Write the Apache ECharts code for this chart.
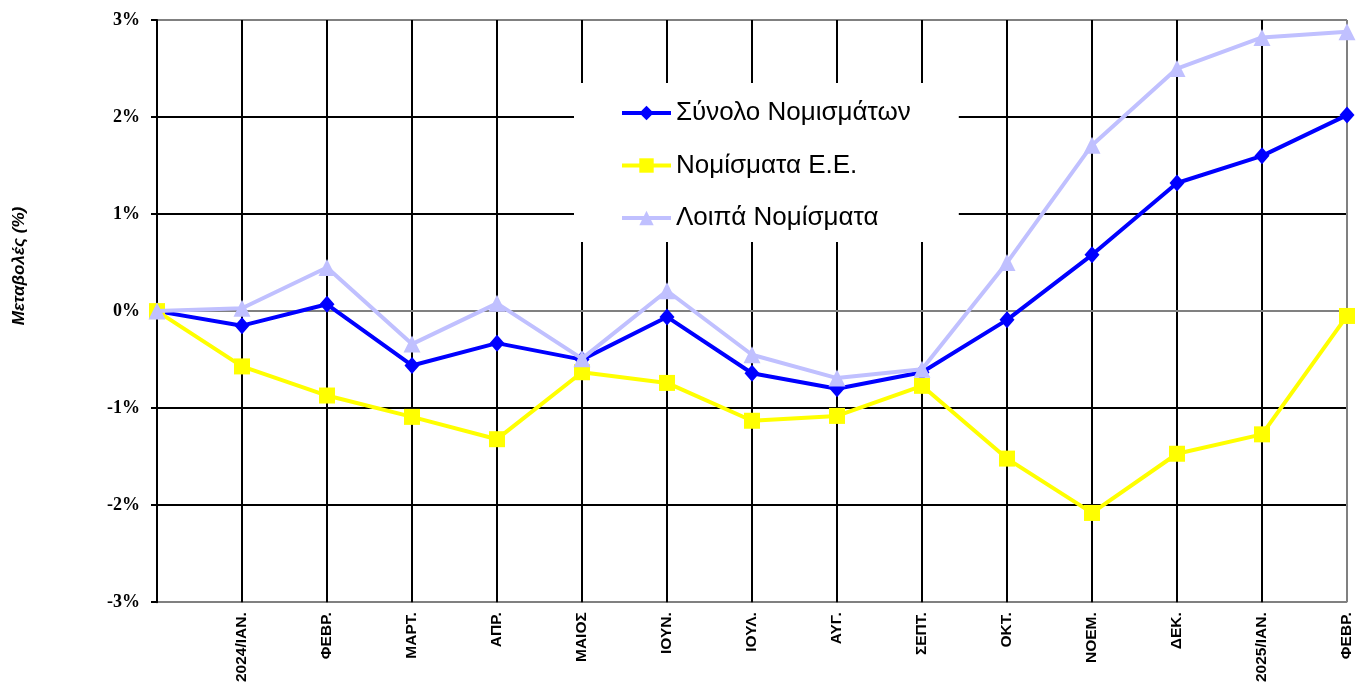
<!DOCTYPE html>
<html>
<head>
<meta charset="utf-8">
<script src="https://cdn.jsdelivr.net/npm/echarts@6/dist/echarts.min.js"></script>
<style>
  html, body { margin: 0; padding: 0; background: #fff; }
  #main { width: 1361px; height: 685px; }
</style>
</head>
<body>
<div id="main"></div>
<script>
const categories = ["", "2024/ΙΑΝ.", "ΦΕΒΡ.", "ΜΑΡΤ.", "ΑΠΡ.", "ΜΑΙΟΣ", "ΙΟΥΝ.", "ΙΟΥΛ.", "ΑΥΓ.", "ΣΕΠΤ.", "ΟΚΤ.", "ΝΟΕΜ.", "ΔΕΚ.", "2025/ΙΑΝ.", "ΦΕΒΡ."];
const totalCurrencies = [0, -0.15, 0.07, -0.56, -0.33, -0.5, -0.06, -0.64, -0.8, -0.63, -0.09, 0.58, 1.32, 1.6, 2.02];
const euCurrencies = [0, -0.57, -0.87, -1.09, -1.32, -0.63, -0.74, -1.13, -1.08, -0.77, -1.52, -2.08, -1.47, -1.27, -0.05];
const otherCurrencies = [0, 0.03, 0.45, -0.34, 0.08, -0.49, 0.21, -0.45, -0.69, -0.6, 0.5, 1.71, 2.5, 2.82, 2.88];
const seriesNames = ["Σύνολο Νομισμάτων", "Νομίσματα Ε.Ε.", "Λοιπά Νομίσματα"];
const yTicks = [-3, -2, -1, 0, 1, 2, 3];

const chart = echarts.init(document.getElementById("main"));

// outer lines of the plot are grey, inner grid lines black
const vColors = categories.map((c, i) => (i === categories.length - 1 ? "#808080" : "#000"));
const hColors = yTicks.map((v, i) => (i === 0 || i === yTicks.length - 1 ? "#808080" : "#000"));

chart.setOption({
  animation: false,
  backgroundColor: "#fff",
  grid: { left: 157, right: 14, top: 20, bottom: 82 },
  legend: {
    orient: "vertical",
    left: 574,
    top: 83,
    padding: [17, 48, 11, 46],
    backgroundColor: "#fff",
    itemWidth: 49,
    itemHeight: 18,
    itemGap: 26.5,
    lineStyle: { width: 4 },
    textStyle: { fontFamily: "Liberation Sans", fontSize: 26, lineHeight: 26, color: "#000" },
    data: seriesNames,
  },
  graphic: [
    {
      type: "text",
      x: 19,
      y: 266,
      rotation: Math.PI / 2,
      style: {
        text: "Μεταβολές (%)",
        font: "italic bold 17px 'Liberation Sans', Arial, sans-serif",
        fill: "#000",
        align: "center",
        verticalAlign: "middle",
      },
    },
  ],
  xAxis: {
    type: "category",
    boundaryGap: false,
    data: categories,
    axisLine: { lineStyle: { color: "#808080", width: 2 } },
    axisTick: { show: false },
    axisLabel: {
      rotate: 90,
      margin: 10,
      interval: 0,
      fontFamily: "Liberation Sans",
      fontWeight: "bold",
      fontSize: 15.5,
      color: "#000",
    },
    splitLine: { show: true, lineStyle: { color: vColors, width: 2 } },
  },
  yAxis: {
    type: "value",
    min: -3,
    max: 3,
    interval: 1,
    axisLine: { show: true, onZero: false, lineStyle: { color: "#000", width: 2 } },
    axisTick: { show: true, length: 6, lineStyle: { color: "#000", width: 2 } },
    axisLabel: {
      margin: 17,
      fontFamily: "Liberation Serif",
      fontWeight: "bold",
      fontSize: 18,
      color: "#000",
      formatter: (v) => v + "%",
    },
    splitLine: { show: true, lineStyle: { color: hColors, width: 2 } },
  },
  series: [
    {
      name: seriesNames[0],
      type: "line",
      data: totalCurrencies,
      symbol: "diamond",
      symbolSize: [15, 17],
      lineStyle: { color: "#0000ff", width: 4 },
      itemStyle: { color: "#0000ff" },
      z: 3,
    },
    {
      name: seriesNames[1],
      type: "line",
      data: euCurrencies,
      symbol: "rect",
      symbolSize: 16,
      lineStyle: { color: "#ffff00", width: 4 },
      itemStyle: { color: "#ffff00" },
      z: 4,
    },
    {
      name: seriesNames[2],
      type: "line",
      data: otherCurrencies,
      symbol: "triangle",
      symbolSize: 17,
      lineStyle: { color: "#c0c0ff", width: 4 },
      itemStyle: { color: "#c0c0ff" },
      z: 5,
    },
  ],
});
</script>
</body>
</html>
